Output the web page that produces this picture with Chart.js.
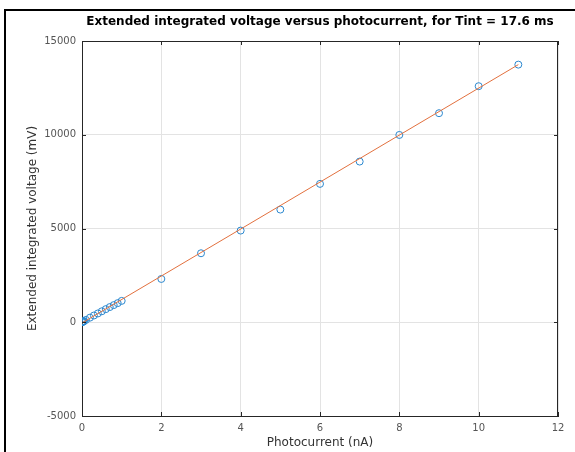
<!DOCTYPE html>
<html>
<head>
<meta charset="utf-8">
<script src="https://cdn.jsdelivr.net/npm/chart.js@4.4.1/dist/chart.umd.min.js"></script>
<style>
  html, body { margin: 0; padding: 0; background: #fff; }
  #wrap { width: 575px; height: 452px; position: relative; }
</style>
</head>
<body>
<div id="wrap"><canvas id="myChart" width="575" height="452"></canvas></div>
<script>
// measured points (photocurrent in nA, integrated voltage in mV)
const currentNa = [0, 0.01, 0.02, 0.03, 0.04, 0.05, 0.1, 0.2, 0.3, 0.4, 0.5, 0.6, 0.7, 0.8, 0.9, 1,
                   2, 3, 4, 5, 6, 7, 8, 9, 10, 11];
const voltageMv = [5, 15, 25, 38, 50, 62, 125, 245, 360, 470, 585, 700, 810, 915, 1020, 1140,
                   2310, 3680, 4890, 6010, 7380, 8570, 9990, 11150, 12590, 13740];
// linear fit, end points
const fitX = [0, 11];
const fitY = [-40, 13740];
// axes
const xTicks = [0, 2, 4, 6, 8, 10, 12];
const yTicks = [-5000, 0, 5000, 10000, 15000];
const titulo = 'Extended integrated voltage versus photocurrent, for Tint = 17.6 ms';

const fuente = 'DejaVu Sans';

function puntos(xs, ys) {
    return xs.map((x, i) => ({ x: x, y: ys[i] }));
}

// frame, title and inside tick marks
const extras = {
    id: 'extras',
    afterDraw(chart) {
        const ctx = chart.ctx;
        const a = chart.chartArea;
        const sx = chart.scales.x, sy = chart.scales.y;
        ctx.save();
        // black frame top / left
        ctx.fillStyle = '#000';
        ctx.fillRect(4, 9, 575 - 4, 2);
        ctx.fillRect(4, 9, 2, 452 - 9);
        // box top / right
        ctx.strokeStyle = '#262626';
        ctx.lineWidth = 1;
        ctx.beginPath();
        ctx.moveTo(a.left, a.top + 0.5);
        ctx.lineTo(a.right, a.top + 0.5);
        ctx.moveTo(a.right - 0.5, a.top);
        ctx.lineTo(a.right - 0.5, a.bottom);
        // ticks inside
        xTicks.forEach(v => {
            const px = Math.round(sx.getPixelForValue(v)) + 0.5;
            ctx.moveTo(px, a.bottom); ctx.lineTo(px, a.bottom - 4);
            ctx.moveTo(px, a.top); ctx.lineTo(px, a.top + 4);
        });
        yTicks.forEach(v => {
            const py = Math.round(sy.getPixelForValue(v)) + 0.5;
            ctx.moveTo(a.left, py); ctx.lineTo(a.left + 4, py);
            ctx.moveTo(a.right, py); ctx.lineTo(a.right - 4, py);
        });
        ctx.stroke();
        // title
        ctx.fillStyle = '#000';
        ctx.font = 'bold 12px "' + fuente + '"';
        ctx.textAlign = 'center';
        ctx.textBaseline = 'middle';
        ctx.fillText(titulo, (a.left + a.right) / 2, 22);
        ctx.restore();
    }
};

const ctx = document.getElementById('myChart');
const myChart = new Chart(ctx, {
    type: 'scatter',
    data: {
        datasets: [{
                type: 'line',
                label: 'Fit',
                data: puntos(fitX, fitY),
                borderColor: '#E2703E',
                borderWidth: 1,
                pointRadius: 0,
                fill: false
            }, {
                label: 'Data',
                data: puntos(currentNa, voltageMv),
                borderColor: '#2B88CF',
                backgroundColor: 'rgba(0,0,0,0)',
                borderWidth: 1,
                pointRadius: 3.5,
                pointStyle: 'circle'
            }]
    },
    plugins: [extras],
    options: {
        responsive: false,
        animation: false,
        events: [],
        layout: { padding: { top: 41, right: 17, left: 0, bottom: 0 } },
        plugins: {
            legend: { display: false },
            title: { display: false },
            tooltip: { enabled: false }
        },
        scales: {
            x: {
                type: 'linear',
                min: 0,
                max: 12,
                afterBuildTicks: s => { s.ticks = xTicks.map(v => ({ value: v })); },
                afterFit: s => { s.height = 36; },
                grid: { color: '#e3e3e3', drawTicks: false },
                border: { display: true, color: '#262626', width: 1 },
                ticks: {
                    padding: 6,
                    color: '#555555',
                    font: { family: fuente, size: 10 },
                    callback: v => String(v)
                },
                title: {
                    display: true,
                    text: 'Photocurrent (nA)',
                    color: '#333333',
                    font: { family: fuente, size: 12 },
                    padding: { top: 0, bottom: 1.8 }
                }
            },
            y: {
                type: 'linear',
                min: -5000,
                max: 15000,
                afterBuildTicks: s => { s.ticks = yTicks.map(v => ({ value: v })); },
                afterFit: s => { s.width = 82; },
                grid: { color: '#e3e3e3', drawTicks: false },
                border: { display: true, color: '#262626', width: 1 },
                ticks: {
                    padding: 6,
                    color: '#555555',
                    font: { family: fuente, size: 10 },
                    callback: v => String(v)
                },
                title: {
                    display: true,
                    text: 'Extended integrated voltage (mV)',
                    color: '#333333',
                    font: { family: fuente, size: 12 },
                    padding: { top: 25.8, bottom: 0 }
                }
            }
        }
    }
});
</script>
</body>
</html>
